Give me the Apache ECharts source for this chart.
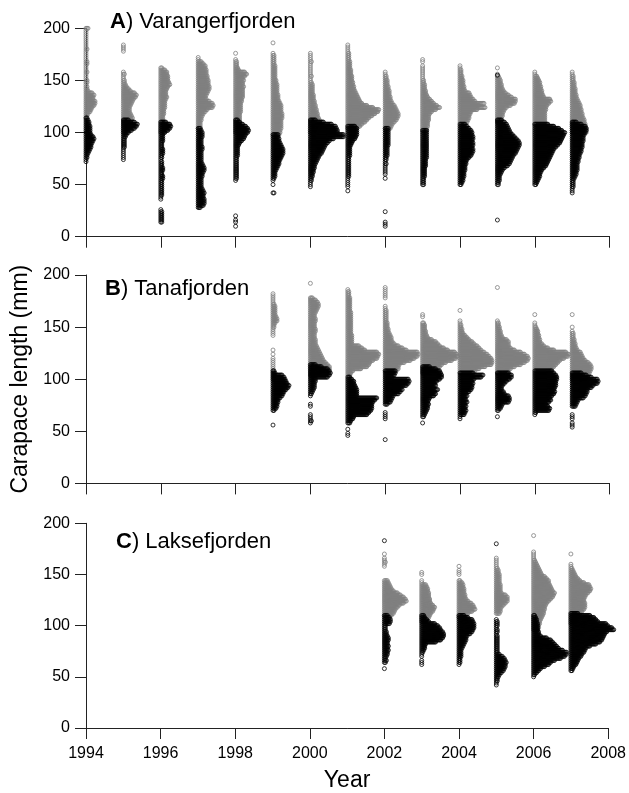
<!DOCTYPE html>
<html>
<head>
<meta charset="utf-8">
<script src="https://cdn.jsdelivr.net/npm/echarts@6/dist/echarts.min.js"></script>
<style>
html, body { margin: 0; padding: 0; background: #fff; }
#chart { width: 629px; height: 793px; }
</style>
</head>
<body>
<div id="chart"></div>
<script>
// length classes are 2 mm wide, each histogram is [first class (mm), counts per class]
var binMM = 2;

var varangerYears = [1994, 1995, 1996, 1997, 1998, 1999, 2000, 2001, 2002, 2003, 2004, 2005, 2006, 2007];
var tanaYears = [1999, 2000, 2001, 2002, 2003, 2004, 2005, 2006, 2007];
var lakseYears = [2002, 2003, 2004, 2005, 2006, 2007];

// grey dots (males)
var varangerMales = [
    [114, [1,2,3,5,6,7,9,10,10,8,8,9,7,3,2,2,1,2,2,1,1,1,2,1,1,1,2,2,1,1,1,1,1,2,1,1,1,1,1,1,1,1,1,3]],
    [100, [3,4,5,6,7,8,9,10,9,8,7,7,7,8,9,10,11,13,14,12,8,6,4,3,2,2,1,1,2,1,0,0,0,0,0,0,0,0,0,1,1,1,1]],
    [100, [2,2,2,2,2,3,3,3,3,4,4,4,5,5,5,5,6,7,6,6,6,7,8,10,9,8,8,8,7,7,5,2]],
    [104, [3,3,3,3,4,4,5,6,8,10,15,16,15,12,9,8,9,10,11,12,12,11,11,11,10,10,9,9,9,8,8,6,4,1,1]],
    [100, [4,4,4,5,5,5,5,5,5,5,6,6,6,6,6,7,7,8,8,8,8,8,9,8,8,9,8,10,12,10,4,3,2,2,2,1,0,0,1]],
    [98, [7,8,8,9,9,9,9,9,10,10,10,9,9,9,9,8,7,6,6,6,5,5,5,5,5,4,4,3,3,3,3,3,3,3,2,2,2,2,2,1,0,0,0,0,1]],
    [100, [8,9,10,10,10,10,10,9,8,8,7,7,6,6,5,5,4,4,4,3,3,3,3,3,2,1,1,2,1,1,1,1,1,1,2,1,1,1,1]],
    [104, [10,13,15,18,20,22,25,28,31,32,26,20,15,13,12,11,10,9,8,7,7,6,6,5,5,5,4,4,4,3,3,3,3,2,2,2,2,1,1,1,1]],
    [104, [6,7,8,10,12,13,14,14,13,12,11,10,8,7,6,6,5,5,5,4,4,3,3,3,2,2,1,1]],
    [102, [5,5,6,6,6,7,7,7,8,10,14,18,15,12,10,8,6,5,4,4,3,3,3,2,2,1,1,1,1,1,1,1,0,1,1]],
    [110, [8,9,10,10,11,12,18,26,20,25,16,14,12,11,10,6,5,5,4,4,4,3,3,2,2,2,1,1]],
    [110, [4,5,5,6,6,7,8,10,14,18,19,19,15,12,9,7,6,5,5,4,4,3,2,1,0,0,1]],
    [108, [10,11,11,11,11,11,11,12,12,13,15,17,16,10,9,8,8,7,7,6,6,5,4,3,1,1]],
    [100, [15,15,15,14,14,13,13,12,11,11,10,10,9,9,8,7,6,5,5,4,4,4,3,3,3,2,2,2,1,1]]
];
var tanaMales = [
    [100, [2,2,2,2,1,1,1,1,1,1,1,0,1,0,1,0,0,0,0,0,0,1,1,1,1,2,2,3,5,5,4,3,3,3,3,3,2,1,1,1,1,1]],
    [104, [8,14,18,20,20,18,16,14,13,12,11,10,9,8,7,6,6,6,5,5,5,6,6,5,5,5,6,6,5,5,6,7,8,9,9,8,6,3,0,0,0,0,0,0,1]],
    [104, [3,4,6,14,20,22,23,26,30,31,32,30,18,15,12,5,5,5,5,5,4,4,4,4,4,4,4,4,4,4,4,3,3,3,3,3,3,3,2,2,2,1]],
    [108, [12,14,14,15,20,26,30,33,34,33,22,18,14,10,8,7,7,6,5,4,4,3,3,3,2,2,2,2,2,2,1,1,0,0,0,1,1,1,1,1,1]],
    [106, [8,12,16,18,20,24,30,34,36,35,33,26,22,18,16,14,10,6,5,4,4,3,3,3,2,0,0,1,1]],
    [106, [12,16,20,26,32,33,33,32,30,28,25,22,20,18,15,13,10,8,6,4,3,3,2,2,1,1,0,0,0,0,1]],
    [106, [10,12,14,18,24,28,31,32,31,28,24,18,14,12,12,12,10,6,5,4,4,3,3,2,2,1,0,0,0,0,0,0,0,0,0,0,0,0,0,0,0,1]],
    [110, [18,20,22,24,26,30,34,35,32,20,14,10,8,6,6,5,5,4,4,3,2,1,1,0,0,0,1]],
    [100, [14,16,17,18,19,20,20,19,17,14,12,11,10,9,6,5,4,4,3,3,2,2,2,1,0,1,0,0,0,0,0,1]]
];
var lakseMales = [
    [110, [8,10,11,12,14,16,20,23,22,20,17,14,10,8,7,6,5,4,0,0,0,0,0,0,1,1,2,1,1,0,1]],
    [104, [5,6,8,9,10,12,13,14,12,10,9,9,8,8,8,7,7,6,5,1,1,0,0,1,1]],
    [108, [8,8,10,14,17,16,15,13,10,8,7,7,6,6,6,5,5,4,2,0,0,1,1,1,0,1]],
    [112, [4,5,5,6,8,10,12,12,12,10,6,5,5,5,5,4,4,4,4,4,3,3,2,1,1,1,1,1]],
    [96, [5,6,6,7,7,8,9,10,11,11,12,12,13,14,16,18,20,21,22,20,19,18,17,16,16,14,12,9,8,7,6,5,4,3,2,1,1,1,1,0,0,0,0,0,0,0,1]],
    [102, [6,7,7,8,8,10,12,14,15,15,15,14,14,15,16,18,20,21,20,19,14,10,8,6,5,4,3,2,1,1,0,0,0,0,1]]
];

// black dots (females)
var varangerFemales = [
    [72, [1,1,2,2,3,4,5,6,6,7,8,9,8,6,5,5,5,5,4,4,3,2]],
    [74, [1,1,1,1,1,1,2,2,2,2,2,3,4,6,9,12,14,15,12,6]],
    [14, [2,2,2,2,2,2,1,0,0,0,0,1,1,2,2,2,2,2,2,2,2,3,3,2,2,3,3,2,2,2,1,2,2,3,3,3,2,2,2,3,3,3,3,5,8,10,11,10,6]],
    [28, [3,6,7,7,7,6,6,7,6,5,4,4,4,4,4,5,5,6,7,7,6,5,4,4,4,4,4,4,5,5,4,4,4,4,5,5,5,4,3]],
    [10, [1,0,1,1,0,1,0,0,0,0,0,0,0,0,0,0,0,0,0,0,0,0,1,2,2,2,2,2,2,2,2,2,2,2,3,3,3,3,3,4,5,7,9,10,11,13,14,13,11,8,5,3]],
    [42, [2,0,0,0,1,0,1,2,3,3,3,4,5,6,7,7,8,9,10,11,11,11,10,9,8,7,7,6,6]],
    [48, [1,1,1,2,2,3,3,4,4,5,5,6,7,8,9,10,12,13,14,15,16,18,20,24,34,34,28,28,27,26,22,14,6]],
    [44, [1,0,1,1,1,1,1,2,2,2,2,2,2,2,2,2,2,3,3,3,3,3,4,5,6,8,9,10,10,10,10,8]],
    [10, [1,1,1,0,0,0,0,1,0,0,0,0,0,0,0,0,0,0,0,0,0,0,0,1,0,1,1,1,1,1,2,1,2,2,3,3,3,3,3,4,4,4,4,4,4,4,4,4]],
    [50, [2,2,2,2,3,3,3,3,3,4,4,4,4,5,5,5,5,5,5,5,5,5,5,5,5,5,5]],
    [50, [2,3,4,4,5,5,5,6,6,6,7,7,8,10,12,13,14,14,13,14,14,13,14,14,13,13,12,10,8,6]],
    [16, [1,0,0,0,0,0,0,0,0,0,0,0,0,0,0,0,0,2,2,3,3,3,4,5,6,8,11,13,14,15,16,17,19,20,21,22,23,23,22,20,18,16,14,13,12,11,10,8,5]],
    [50, [2,3,4,5,6,6,7,8,10,12,13,14,15,16,17,18,19,20,22,24,26,27,28,29,30,31,28,25,20,14]],
    [42, [1,1,1,2,2,2,2,3,4,5,5,6,6,6,6,7,7,8,8,9,10,10,11,11,11,12,12,12,13,14,15,15,14,10,5]]
];
var tanaFemales = [
    [56, [1,0,0,0,0,0,0,2,4,5,5,6,6,8,10,11,12,14,16,17,15,14,13,12,10,3,2]],
    [58, [1,2,1,1,1,0,0,0,1,1,0,0,0,1,2,3,4,5,5,5,6,6,18,20,21,20,18,12,6]],
    [46, [1,1,0,1,0,0,3,4,6,7,20,22,24,25,25,25,26,28,30,10,10,10,10,9,8,7,7,5,3]],
    [42, [1,0,0,0,0,0,0,0,0,0,1,1,1,1,0,0,0,3,6,7,8,9,14,16,18,17,22,24,25,24,8,10,11,11]],
    [58, [1,0,0,2,3,4,5,6,6,7,6,7,8,12,14,13,16,12,14,13,15,18,20,20,19,18,14,8]],
    [62, [1,1,5,6,7,6,7,6,8,7,6,8,7,10,12,13,13,14,13,15,22,24,14]],
    [64, [1,0,0,2,4,5,6,12,13,13,12,8,7,5,5,6,8,10,13,15,15,12]],
    [66, [1,2,15,16,14,12,15,17,16,18,20,21,20,21,22,22,22,23,23,22,20,18]],
    [54, [1,1,1,0,1,1,1,0,0,0,4,5,6,7,12,14,15,16,16,20,22,26,27,26,20,15,10]]
];
var lakseFemales = [
    [58, [1,0,0,2,3,2,3,4,4,5,4,5,4,4,5,5,4,3,3,2,2,2,6,7,7,6,4]],
    [62, [1,1,1,0,1,1,2,3,4,4,5,15,20,22,23,23,22,20,19,17,14,8,6,4,3]],
    [62, [1,2,2,2,3,3,3,3,4,5,6,7,8,8,9,12,14,15,16,16,16,15,14,10,6]],
    [42, [1,1,2,2,3,4,6,8,9,10,10,11,10,9,7,4,2,2,2,2,2,2,2,2,2,1,2,2,1,2,2,2,1]],
    [50, [1,2,4,6,8,12,16,18,22,28,32,34,34,30,26,24,22,20,18,14,8,6,6,5,5,5,5,4,4,3,2]],
    [56, [2,3,4,6,7,8,9,11,12,14,15,16,20,26,30,32,33,34,35,37,44,42,38,36,28,26,24,20,8]]
];

// single black dots far up among the grey ones: [year, length]
var varangerStray = [[2005, 155]];
var tanaStray = [];
var lakseStray = [[2002, 183], [2005, 180]];

var panelNames = ['Varangerfjorden', 'Tanafjorden', 'Laksefjorden'];
var panelLetters = ['A', 'B', 'C'];
var yTicks = [0, 50, 100, 150, 200];

var dotStep = 0.0267;   // horizontal offset of stacked dots, in years
var font = 'Liberation Sans, Arial, sans-serif';

function dots(years, hists, stray) {
    var pts = [];
    years.forEach(function (yr, i) {
        var lo = hists[i][0], n = hists[i][1];
        for (var j = 0; j < n.length; j++) {
            for (var k = 0; k < n[j]; k++) {
                pts.push([yr + k * dotStep, lo + j * binMM]);
            }
        }
    });
    (stray || []).forEach(function (p) { pts.push([p[0], p[1]]); });
    return pts;
}

var panels = [
    { years: varangerYears, m: varangerMales, f: varangerFemales, s: varangerStray },
    { years: tanaYears, m: tanaMales, f: tanaFemales, s: tanaStray },
    { years: lakseYears, m: lakseMales, f: lakseFemales, s: lakseStray }
];

var tops = [28.3, 275, 523.3];
var grid = [], xAxis = [], yAxis = [], series = [], title = [];
var titleTops = [11, 278, 531];
var titleLefts = [110, 105, 116];
var axisCol = '#222';

panels.forEach(function (p, i) {
    grid.push({ left: 86, width: 523.6, top: tops[i], height: 208.4 });
    xAxis.push({
        type: 'value', gridIndex: i, min: 1994, max: 2008, interval: 2,
        axisLine: { show: true, lineStyle: { color: axisCol, width: 1 } },
        axisTick: { show: true, length: 11, lineStyle: { color: axisCol } },
        splitLine: { show: false },
        axisLabel: {
            show: i === 2, margin: 18, color: '#000', fontSize: 16, fontFamily: font,
            formatter: function (v) { return String(v); }
        },
        name: i === 2 ? 'Year' : '',
        nameLocation: 'middle', nameGap: 41,
        nameTextStyle: { color: '#000', fontSize: 23, fontFamily: font }
    });
    yAxis.push({
        type: 'value', gridIndex: i, min: yTicks[0], max: yTicks[yTicks.length - 1], interval: 50,
        axisLine: { show: true, lineStyle: { color: axisCol, width: 1 } },
        axisTick: { show: true, length: 11, lineStyle: { color: axisCol } },
        splitLine: { show: false },
        axisLabel: { margin: 16, color: '#000', fontSize: 16, fontFamily: font },
        name: i === 1 ? 'Carapace length (mm)' : '',
        nameLocation: 'middle', nameGap: 53, nameRotate: 90,
        nameTextStyle: { color: '#000', fontSize: 23, fontFamily: font }
    });
    title.push({
        text: '{b|' + panelLetters[i] + '}) ' + panelNames[i],
        left: titleLefts[i], top: titleTops[i], padding: 0,
        textStyle: {
            color: '#000', fontSize: 22, fontWeight: 'normal', fontFamily: font,
            rich: { b: { fontSize: 22, fontWeight: 'bold', fontFamily: font, color: '#000' } }
        }
    });
    series.push({
        type: 'scatter', xAxisIndex: i, yAxisIndex: i, silent: true, clip: false,
        symbol: 'circle', symbolSize: 4,
        itemStyle: { color: 'rgba(0,0,0,0)', borderColor: '#808080', borderWidth: 1 },
        data: dots(p.years, p.m)
    });
    series.push({
        type: 'scatter', xAxisIndex: i, yAxisIndex: i, silent: true, clip: false,
        symbol: 'circle', symbolSize: 4,
        itemStyle: { color: 'rgba(0,0,0,0)', borderColor: '#000', borderWidth: 1 },
        data: dots(p.years, p.f, p.s)
    });
});

var myChart = echarts.init(document.getElementById('chart'));
var option = {
    animation: false,
    backgroundColor: '#fff',
    title: title,
    grid: grid,
    xAxis: xAxis,
    yAxis: yAxis,
    series: series
};
option && myChart.setOption(option);
</script>
</body>
</html>
